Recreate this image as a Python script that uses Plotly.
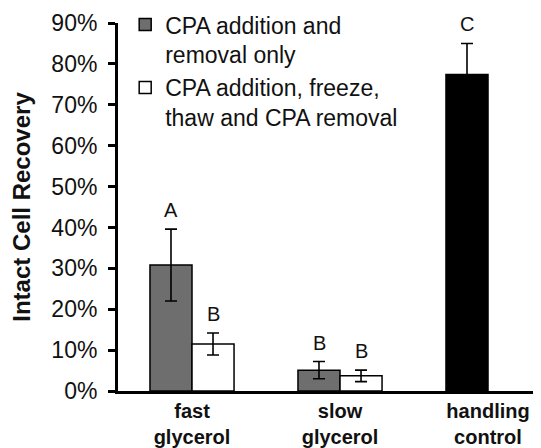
import plotly.graph_objects as go

categories = ["fast<br>glycerol", "slow<br>glycerol", "handling<br>control"]
series1_name = "CPA addition and<br>removal only"
series2_name = "CPA addition, freeze,<br>thaw and CPA removal"
series1_values = [30.8, 5.1, 77.4]
series1_err = [8.8, 2.1, 7.6]
series2_values = [11.5, 3.7, None]
series2_err = [2.7, 1.4, None]
series1_letters = ["A", "B", "C"]
series2_letters = ["B", "B", None]
y_ticks = [0, 10, 20, 30, 40, 50, 60, 70, 80, 90]
y_ticktext = [f"{v}%" for v in y_ticks]

GRAY = "#6e6e6e"
FONT = "Liberation Sans, Arial, sans-serif"

fig = go.Figure()
fig.add_trace(go.Bar(
    x=categories, y=series1_values, name=series1_name,
    marker=dict(color=[GRAY, GRAY, "#000000"], line=dict(color="black", width=1.5)),
    error_y=dict(type="data", array=series1_err, color="black", thickness=1.6, width=6),
))
fig.add_trace(go.Bar(
    x=categories, y=series2_values, name=series2_name,
    marker=dict(color="white", line=dict(color="black", width=1.5)),
    error_y=dict(type="data", array=series2_err, color="black", thickness=1.6, width=6),
))

annotations = []
for cat, v, e, t in zip(categories, series1_values, series1_err, series1_letters):
    if t is not None:
        annotations.append(dict(x=cat, y=v + e, text=t, showarrow=False, xshift=-21,
                                yanchor="bottom", yshift=6, font=dict(size=20, color="#111", family=FONT)))
for cat, v, e, t in zip(categories, series2_values, series2_err, series2_letters):
    if t is not None:
        annotations.append(dict(x=cat, y=v + e, text=t, showarrow=False, xshift=21,
                                yanchor="bottom", yshift=6, font=dict(size=20, color="#111", family=FONT)))

fig.update_layout(
    width=533, height=440,
    margin=dict(l=110, r=0, t=15, b=57, autoexpand=False),
    paper_bgcolor="white", plot_bgcolor="white",
    barmode="group", bargap=0.432, bargroupgap=0,
    font=dict(family=FONT, color="#111", size=22),
    showlegend=True,
    legend=dict(x=0.017, y=1.054, xanchor="left", yanchor="top", valign="top",
                font=dict(size=23, family=FONT, color="#111"), bgcolor="rgba(0,0,0,0)",
                itemwidth=30, tracegroupgap=0),
    annotations=annotations,
)
fig.update_xaxes(
    range=[-0.5, 2.358], showline=True, linecolor="black", linewidth=3,
    ticks="", showgrid=False, tickfont=dict(size=20, family=FONT, color="#111", weight="bold"),
    zeroline=False, automargin=False,
)
fig.update_yaxes(
    range=[0, 90], tickvals=y_ticks, ticktext=y_ticktext, showline=True, linecolor="black",
    linewidth=3, ticks="outside", ticklen=7, tickwidth=3, tickcolor="black", showgrid=False,
    zeroline=False, tickfont=dict(size=23, family=FONT, color="#111"), ticklabelstandoff=6,
    automargin=False,
    title=dict(text="<b>Intact Cell Recovery</b>", font=dict(size=24, family=FONT, color="#111"), standoff=16),
)

fig.write_html("out.html")
